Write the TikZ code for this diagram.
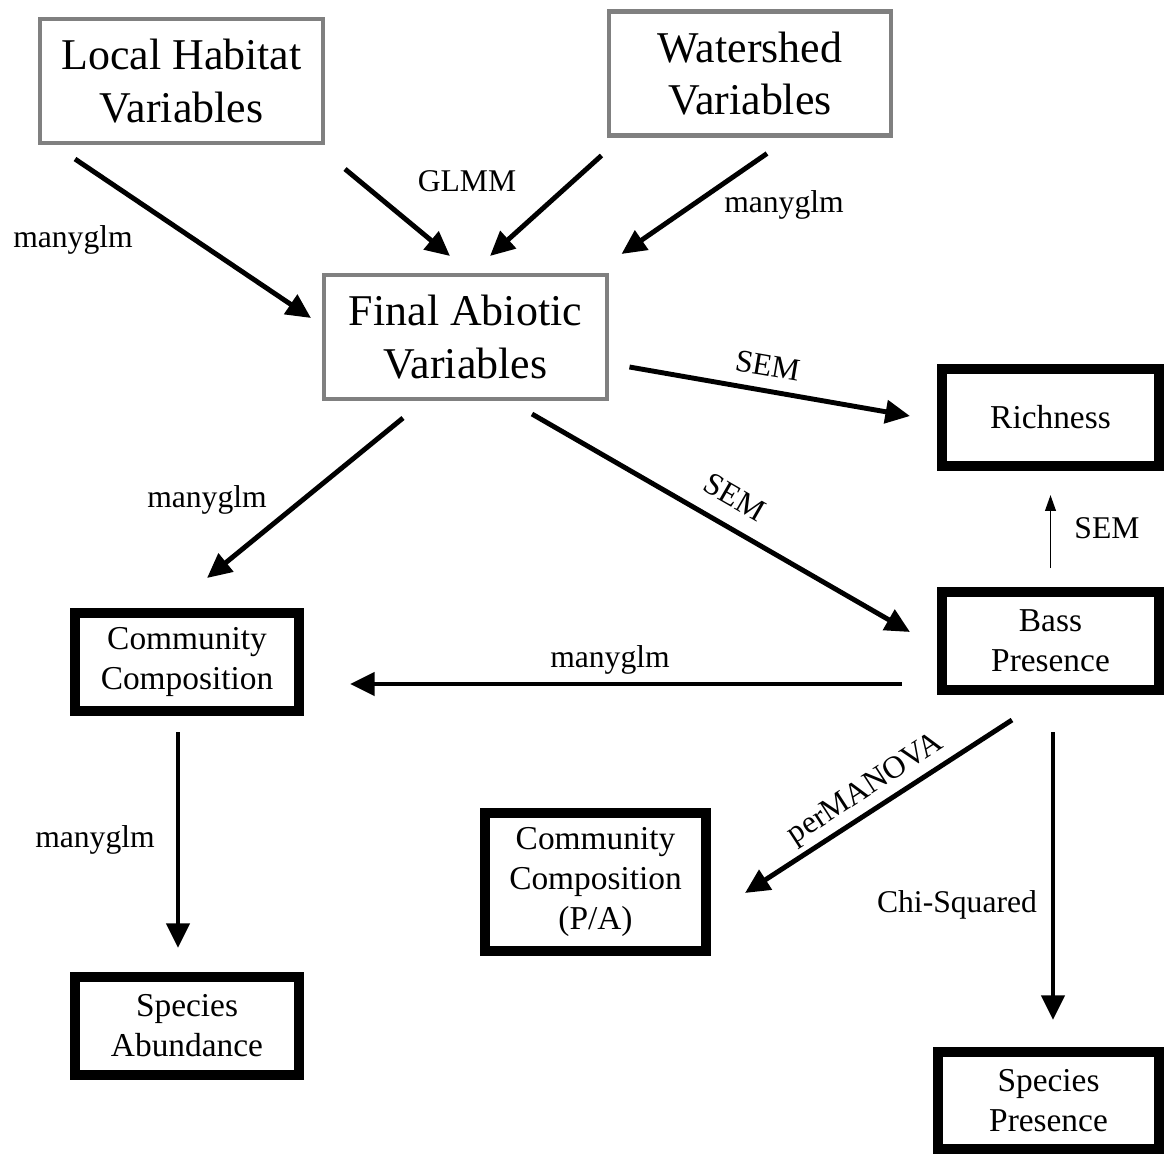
\documentclass[tikz,border=0pt]{standalone}
\usepackage{fontspec}
\setmainfont{Liberation Serif}
\usetikzlibrary{arrows.meta,calc}
\tikzset{
  varbox/.style={draw=black!50, line width=2.3pt, align=center, inner sep=0pt,
    font=\fontsize{25}{30}\selectfont, minimum width=5.66cm, minimum height=2.48cm},
  resbox/.style={draw=black, line width=5.7pt, align=center, inner sep=0pt,
    font=\fontsize{19}{22.7}\selectfont},
  lab/.style={font=\fontsize{18}{21}\selectfont, inner sep=0pt},
  arr/.style={line width=2.8pt, -{Triangle[length=14pt,width=13pt]}},
  thinarr/.style={line width=1.1pt, -{Triangle[length=9pt,width=6pt]}}
}
\begin{document}
\begin{tikzpicture}[x=0.02cm,y=-0.02cm]
  \useasboundingbox (0,0) rectangle (1164,1154);
  % Variable boxes (gray)
  \node[varbox] (local) at (181.5,81) {Local Habitat\\Variables};
  \node[varbox] (water) at (750,73.5) {Watershed\\Variables};
  \node[varbox] (final) at (465.5,337) {Final Abiotic\\Variables};

  % Response boxes (thick black)
  \node[resbox, minimum width=4.34cm, minimum height=1.94cm] (rich) at (1050.5,417.5) {Richness};
  \node[resbox, minimum width=4.34cm, minimum height=1.96cm] (bass) at (1050.5,641) {Bass\\Presence};
  \node[resbox, minimum width=4.48cm, minimum height=1.96cm] (comm) at (187,662) {Community\\Composition};
  \node[resbox, minimum width=4.42cm, minimum height=2.76cm] (commpa) at (595.5,882) {Community\\Composition\\(P/A)};
  \node[resbox, minimum width=4.48cm, minimum height=1.96cm] (abund) at (187,1026) {Species\\Abundance};
  \node[resbox, minimum width=4.42cm, minimum height=1.94cm] (pres) at (1048.5,1100.5) {Species\\Presence};

  % Arrows into the final abiotic variables
  \draw[arr] ($(local.south west)+(37,14)$) -- ($(final.west)+(-11,-19)$);
  \draw[arr] ($(local.south east)+(20,24)$) -- ($(final.north)+(-15.5,-17)$);
  \draw[arr] ($(water.south west)+(-5,18)$) -- ($(final.north)+(24.5,-17)$);
  \draw[arr] ($(water.south)+(17,16)$) -- ($(final.north east)+(12.5,-19)$);

  % Arrows out of the final abiotic variables
  \draw[arr] ($(final.east)+(20.5,30)$) -- ($(rich.west)+(-27,-1.5)$);
  \draw[arr] ($(final.south)+(66.5,13)$) -- ($(bass.west)+(-27,-9)$);
  \draw[arr] ($(final.south)+(-62.5,17)$) -- ($(comm.north)+(20,-30)$);

  % Arrows out of bass presence
  \draw[thinarr] ($(bass.north)+(0,-19)$) -- ($(rich.south)+(0,24)$);
  \draw[arr] ($(bass.west)+(-35,43)$) -- ($(comm.east)+(46,22)$);
  \draw[arr] ($(bass.south)+(-38.5,25)$) -- ($(commpa.east)+(34,11)$);
  \draw[arr] ($(bass.south)+(2.5,37)$) -- ($(pres.north)+(4.5,-27)$);
  \draw[arr] ($(comm.south)+(-9,16)$) -- ($(abund.north)+(-9,-24)$);

  % Method labels
  \node[lab] (m1) at (73,240) {manyglm};
  \node[lab] (m2) at (467,181) {GLMM};
  \node[lab] (m3) at (784,205) {manyglm};
  \node[lab, rotate=-9.7] (m4) at (768,366) {SEM};
  \node[lab, rotate=-30] (m5) at (735,497) {SEM};
  \node[lab] (m6) at (207,500) {manyglm};
  \node[lab] (m7) at (1107,528) {SEM};
  \node[lab] (m8) at (610,660) {manyglm};
  \node[lab, rotate=33] (m9) at (866,790) {perMANOVA};
  \node[lab] (m10) at (957,905) {Chi-Squared};
  \node[lab] (m11) at (95,840) {manyglm};
\end{tikzpicture}
\end{document}
